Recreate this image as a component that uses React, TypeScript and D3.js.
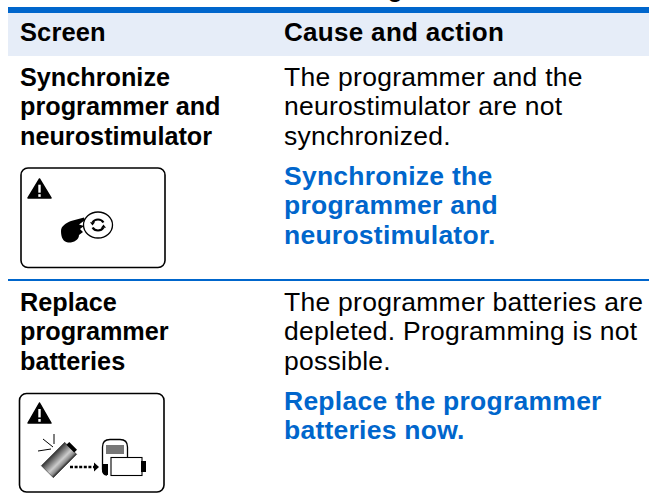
// App.tsx
import React from 'react';
import * as d3 from 'd3';

const headers = ['Screen', 'Cause and action'];

const screenTitles = [
    ['Synchronize', 'programmer and', 'neurostimulator'],
    ['Replace', 'programmer', 'batteries'],
];
const causes = [
    ['The programmer and the', 'neurostimulator are not', 'synchronized.'],
    ['The programmer batteries are', 'depleted. Programming is not', 'possible.'],
];
const actions = [
    ['Synchronize the', 'programmer and', 'neurostimulator.'],
    ['Replace the programmer', 'batteries now.'],
];

const WIDTH = 649;
const HEIGHT = 499;
const BLUE = '#0066cc';
const LIGHT = '#e6edf8';
const FONT = '"Liberation Sans", Arial, sans-serif';
const FONT_SIZE = 25;

// line number -> baseline offset
const lineY = d3.scaleLinear().domain([0, 1]).range([0, 29.3]);
// row index -> y of first text line
const rowY = d3.scaleLinear().domain([0, 1]).range([86, 311]);
const ACTION_OFFSET = 99;

interface TextBlockProps {
    lines: string[];
    x: number;
    y: number;
    bold?: boolean;
    fill?: string;
    spacing?: number;
    stretch?: number; // the original face is wider than Liberation
}

const TextBlock: React.FC<TextBlockProps> = ({ lines, x, y, bold, fill, spacing, stretch }) => (
    <text transform={`translate(${x},0) scale(${stretch || 1},1)`} fontFamily={FONT} fontSize={FONT_SIZE} fontWeight={bold ? 700 : 400} fill={fill || '#000'} letterSpacing={spacing || 0}>
        {lines.map((l, i) => (
            <tspan key={i} x={0} y={y + lineY(i)}>{l}</tspan>
        ))}
    </text>
);

const Warning: React.FC<{ x: number; y: number; w: number; h: number }> = ({ x, y, w, h }) => {
    const tri = d3.line()([[x + w / 2, y], [x + w, y + h], [x, y + h]]) + 'Z';
    return (
        <g>
            <path d={tri} fill="#000" stroke="#000" strokeWidth={1.5} strokeLinejoin="round" />
            <rect x={x + w / 2 - 1.2} y={y + h * 0.3} width={2.4} height={h * 0.42} fill="#fff" />
            <rect x={x + w / 2 - 1.2} y={y + h * 0.8} width={2.4} height={h * 0.14} fill="#fff" />
        </g>
    );
};

const SyncIcon: React.FC = () => {
    const arcTop = d3.arc()({ innerRadius: 5, outerRadius: 7.2, startAngle: -1.1, endAngle: 1.1 }) || '';
    const arcBottom = d3.arc()({ innerRadius: 5, outerRadius: 7.2, startAngle: Math.PI - 1.1, endAngle: Math.PI + 1.1 }) || '';
    return (
        <g>
            <rect x={21} y={168} width={144} height={99.5} rx={7} fill="#fff" stroke="#000" strokeWidth={1.6} />
            <Warning x={28} y={179} w={23} h={19} />
            <ellipse cx={98} cy={225} rx={14.5} ry={13} fill="#fff" stroke="#000" strokeWidth={1.3} />
            <g transform="translate(98,225) scale(1,0.9)">
                <path d={arcTop} fill="#000" />
                <path d={arcBottom} fill="#000" />
                <path d="M-8 -3 L-3 -3 L-5.5 0.5 Z" fill="#000" />
                <path d="M8 3 L3 3 L5.5 -0.5 Z" fill="#000" />
            </g>
            <path d="M61 231 C61 226 66 223 71 221 L84 217.5 L85 220 L79 224.5 L84 226 L80 229 L83 232 L79 235 C79 240 73 243 68 242.5 C63 242 61 237 61 231 Z" fill="#000" />
        </g>
    );
};

const BatteryIcon: React.FC = () => (
    <g>
        <defs>
            <linearGradient id="cell" x1="0" x2="1" y1="0" y2="0">
                <stop offset="0" stopColor="#333" />
                <stop offset="0.6" stopColor="#ccc" />
                <stop offset="0.85" stopColor="#888" />
                <stop offset="1" stopColor="#222" />
            </linearGradient>
        </defs>
        <rect x={19.5} y={393.5} width={144.5} height={98.5} rx={7} fill="#fff" stroke="#000" strokeWidth={1.6} />
        <Warning x={28} y={403} w={23} h={20} />
        {/* loose battery */}
        <g transform="translate(59,460) rotate(45)">
            <rect x={-8.5} y={-16.5} width={17} height={33} fill="url(#cell)" stroke="#222" strokeWidth={0.5} />
            <rect x={-5.5} y={-20} width={11} height={4} fill="#000" />
        </g>
        <path d="M43 439 L53 447 M38 451 L51 449 M54 434 L54 444" stroke="#000" strokeWidth={1} fill="none" />
        {/* dotted arrow */}
        <path d="M70 467 L95 467" stroke="#000" strokeWidth={2.6} strokeDasharray="3 1.6" fill="none" />
        <path d="M94 462.5 L99 467 L94 471.5 Z" fill="#000" />
        {/* programmer */}
        <path d="M107 475 Q102.5 475 102.5 469 L102.5 447 Q102.5 439.5 110 439.5 L120 439.5 Q127.5 439.5 127.5 447 L127.5 457" fill="#fff" stroke="#000" strokeWidth={1.3} />
        <rect x={106} y={445} width={18} height={9} fill="#777" />
        <path d="M102 464 L108 464 L108 475 Q102 475 102 469 Z" fill="#000" />
        <rect x={111} y={457.5} width={31} height={18} fill="#fff" stroke="#000" strokeWidth={1.1} />
        <rect x={141} y={461} width={5} height={11} fill="#000" />
    </g>
);

const App: React.FC = () => (
    <svg width={WIDTH} height={HEIGHT} style={{ position: 'absolute', left: 0, top: 0, display: 'block', background: '#fff' }}>
        {/* tail of the clipped title above the table */}
        <text x={387.5} y={-3.5} fontFamily={FONT} fontSize={FONT_SIZE} fontWeight={700} fill="#000">g</text>

        <rect x={8} y={7} width={WIDTH - 8} height={6} fill={BLUE} />
        <rect x={8} y={13} width={WIDTH - 8} height={43} fill={LIGHT} />
        {headers.map((h, i) => (
            <TextBlock key={h} lines={[h]} x={i === 0 ? 20 : 284} y={41} bold spacing={i === 0 ? 0.1 : 0.3} stretch={i === 0 ? 1.02 : 1.04} />
        ))}

        {screenTitles.map((lines, i) => (
            <TextBlock key={i} lines={lines} x={20} y={rowY(i)} bold stretch={1.01} />
        ))}
        {causes.map((lines, i) => (
            <TextBlock key={i} lines={lines} x={284} y={rowY(i)} spacing={0.25} stretch={1.06} />
        ))}
        {actions.map((lines, i) => (
            <TextBlock key={i} lines={lines} x={284} y={rowY(i) + ACTION_OFFSET} bold fill={BLUE} spacing={0.24} stretch={1.06} />
        ))}

        <rect x={8} y={279} width={WIDTH - 8} height={2} fill={BLUE} />

        <SyncIcon />
        <BatteryIcon />
    </svg>
);

export default App;
